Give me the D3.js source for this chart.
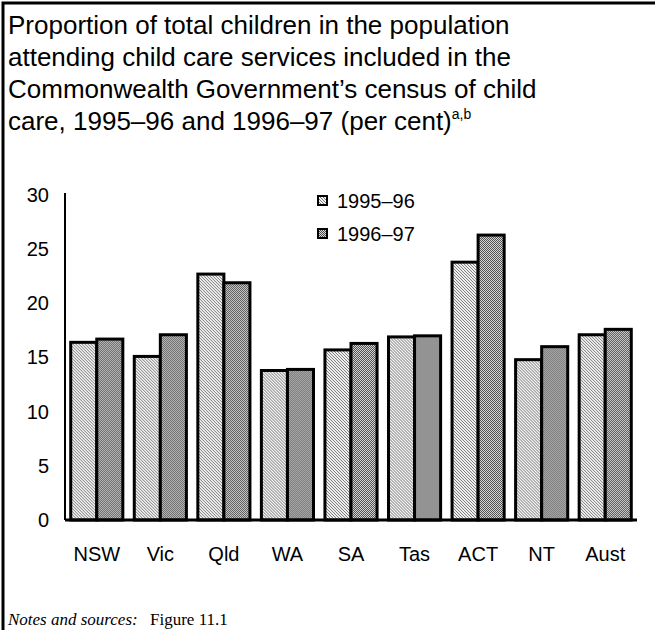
<!DOCTYPE html>
<html>
<head>
<meta charset="utf-8">
<script src="https://cdn.jsdelivr.net/npm/d3@7"></script>
<style>
  html, body { margin: 0; padding: 0; background: #fff; }
  svg { display: block; }
</style>
</head>
<body>
<div id="chart"></div>
<script>
const categories = ["NSW", "Vic", "Qld", "WA", "SA", "Tas", "ACT", "NT", "Aust"];
const seriesNames = ["1995–96", "1996–97"];
const values1995 = [16.4, 15.1, 22.7, 13.8, 15.7, 16.9, 23.8, 14.8, 17.1];
const values1996 = [16.7, 17.1, 21.9, 13.9, 16.3, 17.0, 26.3, 16.0, 17.6];
const yTicks = [0, 5, 10, 15, 20, 25, 30];
const titleLines = [
  "Proportion of total children in the population",
  "attending child care services included in the",
  "Commonwealth Government’s census of child",
  "care, 1995–96 and 1996–97 (per cent)"
];

const W = 655, H = 630;
const svg = d3.select("#chart").append("svg").attr("width", W).attr("height", H);

// patterns
const defs = svg.append("defs");
const p1 = defs.append("pattern").attr("id", "hatch").attr("patternUnits", "userSpaceOnUse")
  .attr("width", 3).attr("height", 3);
p1.append("rect").attr("width", 3).attr("height", 3).attr("fill", "#f2f2f2");
p1.append("path").attr("d", "M0,0 L3,3 M-1,2 L1,4 M2,-1 L4,1").attr("stroke", "#6a6a6a").attr("stroke-width", 0.9);

const p2 = defs.append("pattern").attr("id", "check").attr("patternUnits", "userSpaceOnUse")
  .attr("width", 2).attr("height", 2);
p2.append("rect").attr("width", 2).attr("height", 2).attr("fill", "#dcdcdc");
p2.append("rect").attr("x", 0).attr("y", 0).attr("width", 1).attr("height", 1).attr("fill", "#4a4a4a").attr("shape-rendering", "crispEdges");
p2.append("rect").attr("x", 1).attr("y", 1).attr("width", 1).attr("height", 1).attr("fill", "#4a4a4a").attr("shape-rendering", "crispEdges");

const fills = ["url(#hatch)", "url(#check)"];

// frame
svg.append("path").attr("d", `M3,${H} L3,3 L${W},3`).attr("fill", "none")
  .attr("stroke", "#000").attr("stroke-width", 3);

// title
const title = svg.append("text").attr("font-family", "Arial, 'Liberation Sans', sans-serif")
  .attr("font-size", 26).attr("fill", "#000");
titleLines.forEach((l, i) => {
  title.append("tspan").attr("x", 8).attr("y", 34 + i * 32).text(l);
});
title.append("tspan").attr("font-size", 14).attr("dy", -11).text("a,b");

// scales
const x0 = d3.scaleBand().domain(categories).range([65, 637]).paddingInner(0.18).paddingOuter(0.09);
const x1 = d3.scaleBand().domain(seriesNames).range([0, x0.bandwidth()]);
const y = d3.scaleLinear().domain([0, 30]).range([520, 195]);

// y axis
const yAxis = svg.append("g").attr("transform", "translate(65,0)")
  .call(d3.axisLeft(y).tickValues(yTicks).tickSize(0).tickPadding(16));
yAxis.select(".domain").remove();
yAxis.selectAll("text").attr("font-family", "Arial, 'Liberation Sans', sans-serif")
  .attr("font-size", 20).attr("fill", "#000");
svg.append("line").attr("x1", 65).attr("x2", 65).attr("y1", 193).attr("y2", 520)
  .attr("stroke", "#000").attr("stroke-width", 2);

// bars
const data = categories.map((c, i) => ({ c, vals: [values1995[i], values1996[i]] }));
const groups = svg.append("g").selectAll("g").data(data).join("g")
  .attr("transform", d => `translate(${x0(d.c)},0)`);
groups.selectAll("rect").data(d => d.vals.map((v, j) => ({ v, s: seriesNames[j], j })))
  .join("rect")
  .attr("x", d => x1(d.s))
  .attr("y", d => y(d.v))
  .attr("width", x1.bandwidth())
  .attr("height", d => y(0) - y(d.v))
  .attr("fill", d => fills[d.j])
  .attr("stroke", "#000").attr("stroke-width", 3);

// baseline
svg.append("line").attr("x1", 65).attr("x2", 637).attr("y1", y(0)).attr("y2", y(0))
  .attr("stroke", "#000").attr("stroke-width", 3);

// x labels
const xAxis = svg.append("g").attr("transform", `translate(0,${y(0)})`)
  .call(d3.axisBottom(x0).tickSize(0).tickPadding(27));
xAxis.select(".domain").remove();
xAxis.selectAll("text").attr("font-family", "Arial, 'Liberation Sans', sans-serif")
  .attr("font-size", 20).attr("fill", "#000");

// legend
const legend = svg.append("g");
seriesNames.forEach((s, i) => {
  const ly = 201 + i * 33;
  legend.append("rect").attr("x", 318).attr("y", ly - 5).attr("width", 9).attr("height", 9)
    .attr("fill", fills[i]).attr("stroke", "#000").attr("stroke-width", 2);
  legend.append("text").attr("x", 337).attr("y", ly + 7)
    .attr("font-family", "Arial, 'Liberation Sans', sans-serif").attr("font-size", 20)
    .attr("fill", "#000").text(s);
});

// notes
const notes = svg.append("text").attr("x", 8).attr("y", 625)
  .attr("font-family", "'Liberation Serif', 'Times New Roman', serif").attr("font-size", 17).attr("fill", "#000");
notes.append("tspan").attr("font-style", "italic").text("Notes and sources:");
notes.append("tspan").attr("x", 150).text("Figure 11.1");
</script>
</body>
</html>
